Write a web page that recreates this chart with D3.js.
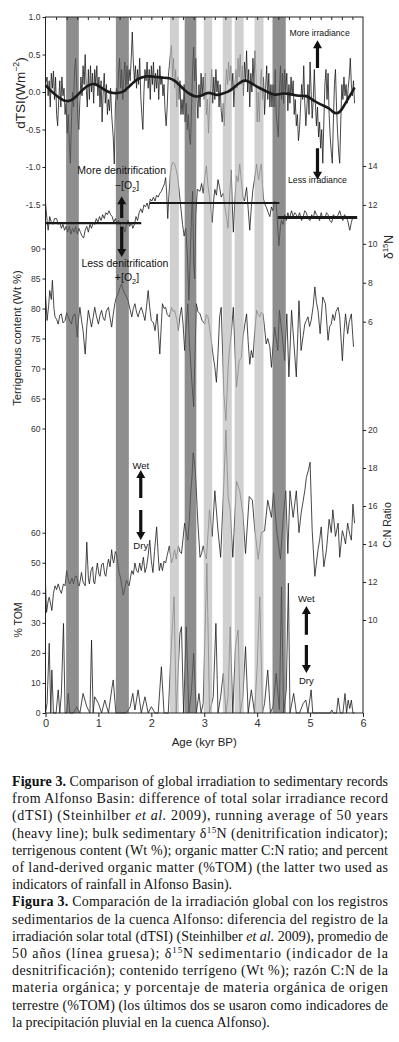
<!DOCTYPE html>
<html>
<head>
<meta charset="utf-8">
<script src="https://cdn.jsdelivr.net/npm/d3@7"></script>
<style>
  body { margin: 0; background: #fff; }
  svg { display: block; }
</style>
</head>
<body>
<svg id="fig" width="399" height="1042"></svg>
<script>
// shaded intervals (kyr BP)
var BANDS_DARK = [[0.39, 0.63], [1.33, 1.575], [2.63, 2.85], [4.29, 4.54]];
var BANDS_LIGHT = [[2.35, 2.52], [2.99, 3.15], [3.35, 3.52], [3.575, 3.745], [3.95, 4.12]];

// tick values
var AGE_TICKS = [0, 1, 2, 3, 4, 5, 6];
var DTSI_TICKS = [1.0, 0.5, 0.0, -0.5, -1.0, -1.5];
var D15N_TICKS = [14, 12, 10, 8, 6];
var TERRIG_TICKS = [90, 85, 80, 75, 70, 65, 60];
var CN_TICKS = [20, 18, 16, 14, 12, 10];
var TOM_TICKS = [60, 50, 40, 30, 20, 10, 0];

// dTSI (W m-2) [age, value]
var DTSI = [[0.00,0.10],[0.03,0.20],[0.05,-0.05],[0.07,0.15],[0.09,-0.20],[0.11,0.25],[0.13,0.05],[0.15,0.28],[0.17,-0.10],[0.19,0.20],
[0.21,-0.30],[0.23,-0.45],[0.25,-0.10],[0.27,0.15],[0.29,-0.20],[0.31,0.20],[0.33,-0.05],[0.35,0.05],[0.37,-0.30],[0.39,-0.15],
[0.41,-0.55],[0.43,-0.30],[0.45,-0.70],[0.47,-0.95],[0.49,-0.40],[0.51,0.00],[0.53,-0.20],[0.55,0.30],[0.57,0.45],[0.59,0.10],
[0.61,-0.35],[0.63,-0.50],[0.65,-0.10],[0.67,0.20],[0.69,-0.05],[0.71,0.35],[0.73,0.10],[0.75,0.50],[0.77,0.05],[0.79,-0.20],
[0.81,0.30],[0.83,-0.10],[0.85,0.35],[0.87,0.00],[0.89,0.25],[0.91,-0.15],[0.93,0.30],[0.95,0.10],[0.97,0.35],[0.99,-0.05],
[1.01,0.20],[1.03,-0.20],[1.05,0.15],[1.07,-0.40],[1.09,0.00],[1.11,0.25],[1.13,-0.15],[1.15,0.10],[1.17,-0.30],[1.19,-0.10],
[1.21,-0.25],[1.23,0.05],[1.25,-0.30],[1.28,-0.60],[1.30,-0.96],[1.32,-0.20],[1.34,0.05],[1.36,-0.10],[1.38,0.25],[1.40,0.45],
[1.42,0.05],[1.44,0.30],[1.46,-0.10],[1.48,0.20],[1.50,0.40],[1.52,0.00],[1.54,0.35],[1.56,0.10],[1.58,0.30],[1.60,0.15],
[1.62,0.45],[1.64,0.80],[1.66,0.40],[1.68,0.15],[1.70,0.35],[1.72,0.05],[1.74,0.30],[1.76,0.10],[1.78,0.45],[1.80,-0.05],
[1.82,-0.30],[1.84,-0.50],[1.86,0.00],[1.88,0.30],[1.90,0.15],[1.92,0.40],[1.94,0.05],[1.96,0.30],[1.98,-0.10],[2.00,0.35],
[2.02,0.10],[2.04,0.40],[2.06,0.00],[2.08,0.25],[2.10,0.05],[2.12,0.30],[2.14,-0.10],[2.16,0.35],[2.18,0.10],[2.20,0.20],
[2.22,-0.05],[2.24,0.10],[2.26,-0.25],[2.28,-0.45],[2.30,-0.20],[2.32,0.20],[2.34,0.35],[2.36,0.50],[2.38,0.62],[2.40,0.20],
[2.42,0.45],[2.44,0.05],[2.46,0.30],[2.48,-0.20],[2.50,0.20],[2.52,-0.10],[2.54,0.15],[2.56,-0.30],[2.58,-0.10],[2.60,-0.30],
[2.62,0.10],[2.64,-0.40],[2.66,-0.15],[2.68,-0.50],[2.70,-0.30],[2.72,-0.60],[2.74,-0.70],[2.76,-0.20],[2.78,0.30],[2.80,0.60],
[2.82,0.15],[2.84,0.45],[2.86,-0.05],[2.88,-0.35],[2.90,0.10],[2.92,-0.20],[2.94,0.25],[2.96,-0.05],[2.98,0.20],[3.00,-0.10],
[3.02,0.25],[3.04,-0.30],[3.06,-0.10],[3.08,-0.55],[3.10,-0.20],[3.12,0.05],[3.14,0.30],[3.16,-0.15],[3.18,0.20],[3.20,-0.10],
[3.22,0.30],[3.24,0.00],[3.26,0.15],[3.28,-0.20],[3.30,0.10],[3.32,-0.25],[3.34,-0.40],[3.36,-0.15],[3.38,-0.45],[3.40,0.05],
[3.42,0.30],[3.44,0.10],[3.46,0.40],[3.48,0.15],[3.50,0.35],[3.52,0.05],[3.54,0.25],[3.56,-0.20],[3.58,0.10],[3.60,0.30],
[3.62,0.05],[3.64,0.45],[3.66,0.20],[3.68,0.50],[3.70,0.10],[3.72,0.35],[3.74,-0.05],[3.76,0.40],[3.78,0.15],[3.80,0.55],
[3.82,0.00],[3.84,0.30],[3.86,-0.20],[3.88,0.25],[3.90,0.00],[3.92,0.45],[3.94,0.10],[3.96,0.55],[3.98,0.20],[4.00,-0.40],
[4.02,0.00],[4.04,-0.40],[4.06,0.10],[4.08,0.30],[4.10,-0.10],[4.12,0.20],[4.14,-0.30],[4.16,0.05],[4.18,0.35],[4.20,-0.10],
[4.22,0.25],[4.24,-0.20],[4.26,0.10],[4.28,-0.20],[4.30,0.10],[4.32,-0.20],[4.34,0.30],[4.36,-0.30],[4.38,-0.45],[4.40,-0.60],
[4.42,0.00],[4.44,0.35],[4.46,-0.10],[4.48,0.25],[4.50,-0.15],[4.52,0.30],[4.54,0.00],[4.56,0.25],[4.58,-0.25],[4.60,0.10],
[4.62,-0.15],[4.64,0.20],[4.66,-0.05],[4.68,0.15],[4.70,-0.30],[4.72,-0.10],[4.74,-0.45],[4.76,-0.30],[4.78,-0.65],[4.80,-0.50],
[4.82,-0.20],[4.84,0.10],[4.86,-0.10],[4.88,0.35],[4.90,-0.15],[4.92,-0.45],[4.94,-0.20],[4.96,0.10],[4.98,-0.30],[5.00,0.40],
[5.02,0.00],[5.04,-0.35],[5.06,-0.10],[5.08,0.30],[5.10,-0.15],[5.12,-0.45],[5.14,-0.20],[5.16,-0.60],[5.18,-0.40],[5.20,-0.75],
[5.22,-0.50],[5.24,-0.95],[5.26,-0.40],[5.28,0.10],[5.30,0.30],[5.32,-0.10],[5.34,0.25],[5.36,-0.30],[5.38,-0.60],[5.40,-0.80],
[5.42,-0.95],[5.44,-0.40],[5.46,0.10],[5.48,0.30],[5.50,-0.20],[5.52,-0.55],[5.54,-0.80],[5.56,-0.95],[5.58,-0.40],[5.60,0.10],
[5.62,-0.10],[5.64,0.20],[5.66,-0.05],[5.68,0.10],[5.70,-0.15],[5.72,0.05],[5.74,0.20],[5.76,0.45],[5.78,0.10],[5.80,-0.05],
[5.82,0.15],[5.84,-0.15]];

// dTSI 50-yr running average
var DTSI_AVG = [[0.00,0.09],[0.15,-0.02],[0.30,-0.10],[0.40,-0.13],[0.50,-0.11],[0.58,-0.06],[0.70,0.03],[0.80,0.09],[0.93,0.12],
[1.05,0.06],[1.15,0.01],[1.28,-0.02],[1.40,-0.01],[1.47,0.00],[1.58,0.07],[1.66,0.13],[1.78,0.19],[1.90,0.21],[1.97,0.21],
[2.10,0.20],[2.20,0.19],[2.35,0.19],[2.45,0.15],[2.55,0.08],[2.65,0.01],[2.73,-0.03],[2.85,-0.07],[2.95,-0.05],[3.05,-0.01],
[3.12,-0.01],[3.23,-0.05],[3.35,-0.02],[3.45,0.00],[3.55,0.05],[3.61,0.09],[3.70,0.14],[3.78,0.16],[3.86,0.13],[3.95,0.09],
[4.05,0.05],[4.17,0.01],[4.28,-0.03],[4.36,-0.04],[4.45,-0.02],[4.55,-0.02],[4.65,-0.03],[4.75,-0.05],[4.85,-0.05],[4.93,-0.05],
[5.00,-0.08],[5.08,-0.12],[5.18,-0.16],[5.28,-0.19],[5.37,-0.22],[5.43,-0.27],[5.50,-0.29],[5.56,-0.27],[5.62,-0.21],[5.70,-0.11],
[5.78,-0.02],[5.84,0.06]];

// bulk sedimentary d15N (per mil)
var D15N = [[0.00,12.1],[0.03,11.2],[0.05,10.7],[0.08,11.4],[0.11,11.1],[0.14,11.0],[0.17,11.3],[0.21,11.3],[0.24,11.0],[0.27,11.1],
[0.30,10.8],[0.33,11.0],[0.36,10.7],[0.39,10.9],[0.42,10.6],[0.45,10.9],[0.48,10.5],[0.51,10.8],[0.54,10.6],[0.57,10.9],
[0.60,10.5],[0.63,10.8],[0.66,10.6],[0.69,10.4],[0.72,10.3],[0.75,10.7],[0.78,10.9],[0.81,10.6],[0.84,11.0],[0.87,10.8],
[0.90,11.1],[0.93,11.0],[0.96,11.3],[0.99,11.1],[1.02,11.4],[1.05,11.2],[1.08,11.5],[1.11,11.3],[1.14,11.6],[1.17,11.5],
[1.20,11.7],[1.23,11.5],[1.26,11.4],[1.29,11.1],[1.32,11.3],[1.35,11.0],[1.38,11.2],[1.41,11.0],[1.44,10.7],[1.47,10.9],
[1.50,10.6],[1.53,11.0],[1.56,11.2],[1.59,10.9],[1.62,11.1],[1.65,10.8],[1.68,11.0],[1.71,11.4],[1.74,11.2],[1.77,11.6],
[1.80,11.8],[1.83,11.6],[1.86,12.0],[1.89,11.9],[1.92,12.1],[1.95,11.8],[1.98,12.3],[2.01,12.2],[2.04,12.4],[2.07,12.2],
[2.10,12.5],[2.13,12.4],[2.16,12.6],[2.19,12.7],[2.22,12.9],[2.25,13.1],[2.27,13.4],[2.29,12.6],[2.31,11.3],[2.33,12.4],
[2.36,13.6],[2.38,14.0],[2.41,14.2],[2.44,14.1],[2.47,13.8],[2.50,13.4],[2.53,12.6],[2.56,11.8],[2.59,11.0],[2.62,10.4],
[2.65,10.8],[2.68,9.5],[2.71,7.1],[2.74,9.8],[2.76,11.5],[2.78,12.7],[2.80,9.0],[2.82,8.2],[2.84,11.5],[2.87,12.8],
[2.92,12.7],[2.95,13.1],[2.98,12.6],[3.01,13.4],[3.04,14.0],[3.07,13.0],[3.10,12.4],[3.13,11.6],[3.15,11.1],[3.18,12.3],
[3.20,12.8],[3.23,12.5],[3.26,13.3],[3.29,12.9],[3.32,12.4],[3.36,12.6],[3.39,11.9],[3.42,11.4],[3.45,10.8],[3.48,12.5],
[3.51,13.8],[3.53,12.0],[3.55,10.6],[3.58,12.3],[3.61,13.5],[3.64,13.2],[3.67,14.1],[3.70,13.3],[3.73,12.4],[3.76,12.2],
[3.80,12.9],[3.83,11.8],[3.86,10.7],[3.89,11.9],[3.92,12.8],[3.95,13.3],[3.99,14.1],[4.01,13.6],[4.03,13.3],[4.06,13.9],
[4.08,14.1],[4.10,13.0],[4.12,12.3],[4.15,12.0],[4.17,11.9],[4.21,11.6],[4.24,11.4],[4.27,11.9],[4.30,11.7],[4.33,12.2],
[4.36,12.1],[4.39,10.8],[4.41,9.9],[4.44,10.9],[4.46,11.2],[4.49,11.0],[4.52,11.5],[4.55,11.2],[4.58,11.6],[4.61,11.3],
[4.65,11.7],[4.68,11.4],[4.71,11.6],[4.74,11.5],[4.77,11.3],[4.80,11.6],[4.84,11.2],[4.87,11.4],[4.90,11.7],[4.93,11.6],
[4.96,11.3],[5.00,11.2],[5.03,11.5],[5.06,11.3],[5.09,11.7],[5.12,11.5],[5.15,11.4],[5.18,11.2],[5.21,11.6],[5.24,11.3],
[5.28,11.3],[5.31,11.6],[5.34,11.5],[5.37,11.2],[5.41,11.1],[5.44,11.5],[5.47,11.4],[5.50,11.3],[5.53,11.5],[5.56,11.7],
[5.59,11.4],[5.62,11.2],[5.65,11.5],[5.68,11.4],[5.71,11.2],[5.75,10.7],[5.78,11.1],[5.81,11.4]];

// d15N interval means
var D15N_MEANS = [{from: 0.00, to: 1.81, value: 11.06}, {from: 1.97, to: 4.42, value: 12.10}, {from: 4.39, to: 5.89, value: 11.36}];

// terrigenous content (Wt %)
var TERRIG = [[0.00,82.4],[0.03,78.0],[0.06,80.5],[0.08,83.0],[0.11,81.5],[0.13,84.7],[0.16,80.0],[0.18,78.6],[0.21,78.2],[0.24,77.4],
[0.27,78.9],[0.30,79.1],[0.33,77.6],[0.37,78.0],[0.40,79.3],[0.43,78.6],[0.46,77.9],[0.49,77.4],[0.52,78.8],[0.56,79.1],
[0.60,75.2],[0.62,77.8],[0.65,80.2],[0.68,78.1],[0.71,76.3],[0.75,72.4],[0.78,77.0],[0.81,79.7],[0.84,78.3],[0.87,76.9],
[0.90,78.5],[0.93,80.2],[0.96,78.8],[1.00,77.4],[1.03,78.9],[1.06,79.7],[1.09,78.4],[1.12,78.0],[1.15,79.6],[1.19,80.2],
[1.22,78.4],[1.25,76.9],[1.28,79.0],[1.31,80.8],[1.34,81.9],[1.37,82.4],[1.41,83.5],[1.44,84.1],[1.47,83.0],[1.50,82.4],
[1.53,82.0],[1.56,81.3],[1.60,79.8],[1.63,78.6],[1.66,80.0],[1.69,80.8],[1.72,79.4],[1.75,78.6],[1.78,79.6],[1.81,80.2],
[1.85,79.0],[1.88,78.0],[1.91,80.4],[1.94,83.0],[1.97,80.1],[2.00,78.0],[2.04,77.6],[2.07,76.3],[2.11,79.1],[2.16,72.4],
[2.19,77.5],[2.21,80.8],[2.24,80.0],[2.27,80.2],[2.30,79.0],[2.34,78.6],[2.38,80.2],[2.41,79.5],[2.44,79.7],[2.48,78.2],
[2.51,76.3],[2.54,78.7],[2.57,80.2],[2.60,77.4],[2.63,73.0],[2.66,77.5],[2.69,80.8],[2.72,74.1],[2.76,68.6],[2.80,63.6],
[2.85,80.8],[2.88,79.5],[2.92,79.1],[2.96,78.0],[3.01,77.4],[3.04,79.0],[3.07,78.6],[3.11,76.2],[3.14,74.1],[3.17,72.0],
[3.20,70.2],[3.23,67.7],[3.26,72.5],[3.29,78.6],[3.32,80.2],[3.35,72.0],[3.37,65.8],[3.41,61.3],[3.45,70.2],[3.48,73.5],
[3.51,75.8],[3.55,80.2],[3.58,73.0],[3.61,66.9],[3.66,71.3],[3.70,71.8],[3.73,75.2],[3.77,77.5],[3.80,79.1],[3.83,74.5],
[3.86,70.7],[3.89,73.0],[3.92,71.8],[3.95,75.5],[3.99,79.7],[4.02,79.0],[4.05,78.6],[4.08,79.4],[4.11,79.1],[4.14,76.8],
[4.17,74.1],[4.20,75.0],[4.24,73.6],[4.27,70.2],[4.30,73.8],[4.33,76.9],[4.36,75.0],[4.39,73.0],[4.42,79.7],[4.47,75.8],
[4.52,71.3],[4.56,79.1],[4.60,68.6],[4.65,79.7],[4.69,74.7],[4.74,68.6],[4.79,81.3],[4.83,73.0],[4.87,75.5],[4.90,77.4],
[4.93,78.0],[4.96,78.6],[4.99,77.0],[5.02,78.0],[5.06,80.5],[5.09,83.6],[5.12,81.0],[5.15,79.7],[5.19,75.8],[5.24,81.9],
[5.29,80.8],[5.34,74.7],[5.37,77.0],[5.40,77.4],[5.43,79.0],[5.46,78.0],[5.49,79.5],[5.53,80.2],[5.56,78.6],[5.61,71.3],
[5.64,76.0],[5.67,79.1],[5.71,75.8],[5.74,77.8],[5.78,79.1],[5.82,73.6]];

// organic matter C:N ratio
var CN_RATIO = [[0.00,11.9],[0.02,10.4],[0.05,11.0],[0.07,11.2],[0.10,10.8],[0.12,10.5],[0.15,11.4],[0.18,11.8],[0.21,11.6],[0.24,11.9],
[0.27,11.6],[0.30,11.4],[0.34,11.9],[0.37,11.8],[0.40,12.6],[0.43,12.1],[0.46,11.9],[0.50,12.2],[0.53,11.9],[0.56,12.3],
[0.59,12.3],[0.62,11.8],[0.64,11.8],[0.68,12.5],[0.71,12.0],[0.75,11.8],[0.78,14.1],[0.81,12.2],[0.83,11.9],[0.86,12.6],
[0.89,12.8],[0.91,12.0],[0.93,11.9],[0.96,12.6],[0.98,13.0],[1.01,12.4],[1.03,12.3],[1.06,12.9],[1.09,13.0],[1.12,12.4],
[1.14,12.3],[1.17,12.9],[1.19,13.2],[1.22,12.8],[1.25,13.7],[1.27,13.2],[1.29,13.0],[1.32,13.6],[1.34,13.5],[1.37,12.9],
[1.39,12.5],[1.42,12.2],[1.44,11.8],[1.47,11.3],[1.50,11.7],[1.53,12.1],[1.56,11.9],[1.58,11.8],[1.61,12.3],[1.63,12.6],
[1.66,12.4],[1.69,13.0],[1.72,12.6],[1.75,12.5],[1.78,13.0],[1.81,12.6],[1.85,13.3],[1.88,12.5],[1.91,12.8],[1.94,13.4],
[1.97,14.2],[2.00,13.1],[2.03,12.5],[2.06,13.6],[2.10,14.9],[2.13,13.4],[2.15,12.6],[2.18,13.0],[2.21,12.6],[2.24,13.1],
[2.27,13.0],[2.30,13.4],[2.34,13.9],[2.38,13.0],[2.41,13.3],[2.44,13.7],[2.47,13.2],[2.51,13.9],[2.54,13.6],[2.57,13.5],
[2.60,14.3],[2.63,15.1],[2.66,14.6],[2.69,14.2],[2.72,15.3],[2.74,16.5],[2.77,17.6],[2.79,18.8],[2.82,18.2],[2.84,17.4],
[2.88,15.1],[2.92,13.3],[2.95,13.5],[2.98,13.9],[3.01,13.5],[3.04,13.2],[3.07,14.5],[3.10,15.8],[3.15,14.4],[3.20,16.8],
[3.26,14.7],[3.31,13.3],[3.36,16.5],[3.41,20.0],[3.45,16.5],[3.49,15.8],[3.54,13.3],[3.61,17.3],[3.67,16.8],[3.73,15.6],
[3.78,13.5],[3.85,16.5],[3.91,16.3],[3.95,14.9],[4.02,13.2],[4.08,14.6],[4.14,14.7],[4.20,16.3],[4.27,15.4],[4.31,16.7],
[4.37,14.7],[4.44,13.2],[4.49,15.3],[4.54,16.8],[4.58,13.5],[4.62,16.8],[4.68,15.4],[4.74,16.8],[4.79,14.6],[4.83,15.6],
[4.90,16.8],[4.93,17.5],[4.97,17.9],[5.00,18.3],[5.04,14.7],[5.09,12.3],[5.12,13.0],[5.15,13.7],[5.18,14.2],[5.21,14.9],
[5.26,12.8],[5.31,13.7],[5.36,15.3],[5.40,14.6],[5.43,15.8],[5.48,14.4],[5.53,15.1],[5.56,13.3],[5.61,14.7],[5.64,14.4],
[5.67,14.0],[5.71,15.1],[5.75,14.5],[5.78,14.2],[5.81,16.1],[5.84,15.1]];

// land-derived organic matter (%TOM)
var TOM = [[0.00,0],[0.03,3.2],[0.07,23.2],[0.10,0],[0.12,14.3],[0.15,0],[0.20,0],[0.24,7.7],[0.27,0],[0.30,6.5],
[0.34,29.8],[0.37,0],[0.40,0],[0.43,6.5],[0.46,0],[0.53,0],[0.59,2.1],[0.65,0],[0.71,6.5],[0.78,2.1],
[0.84,0],[0.87,24.3],[0.90,0],[0.93,5.4],[1.00,3.2],[1.06,0],[1.12,4.3],[1.19,0],[1.25,7.7],[1.28,11.0],
[1.33,0],[1.40,0],[1.53,0],[1.60,2.1],[1.65,6.5],[1.69,1.0],[1.75,7.7],[1.81,0],[1.88,5.4],[1.94,0],
[2.00,2.1],[2.07,0],[2.13,0],[2.19,15.4],[2.24,0],[2.32,0],[2.38,23.2],[2.43,38.7],[2.47,0],[2.54,26.5],
[2.57,28.7],[2.61,0],[2.66,28.7],[2.71,0],[2.76,7.7],[2.80,19.9],[2.85,0],[2.90,6.5],[2.94,0],[2.98,3.2],
[3.05,49.8],[3.10,0],[3.17,5.4],[3.22,29.8],[3.26,0],[3.31,5.4],[3.36,13.2],[3.41,0],[3.45,5.4],[3.49,28.7],
[3.54,0],[3.59,22.1],[3.64,27.6],[3.68,0],[3.73,5.4],[3.78,22.1],[3.83,0],[3.89,7.7],[3.95,0],[4.00,15.4],
[4.05,38.7],[4.10,0],[4.14,3.2],[4.20,14.3],[4.25,0],[4.30,2.1],[4.36,13.2],[4.42,1.0],[4.46,42.0],[4.50,0],
[4.55,7.7],[4.59,43.2],[4.62,0],[4.69,6.5],[4.74,0],[4.80,0],[4.87,3.2],[4.92,4.3],[4.96,0],[5.02,7.7],
[5.05,0],[5.38,0],[5.41,1.0],[5.44,0],[5.50,0],[5.53,5.0],[5.57,0],[5.62,0],[5.66,6.5],[5.69,0],
[5.72,4.3],[5.75,1.5],[5.78,4.3],[5.81,0],[5.84,0]];

// caption lines: [text, kind] kind: b bold, i italic, s superscript
var CAPTION = [
  {justify: true, parts: [['Figure 3.', 'b'], [' Comparison of global irradiation to sedimentary records', '']]},
  {justify: true, parts: [['from Alfonso Basin: difference of total solar irradiance record', '']]},
  {justify: true, parts: [['(dTSI) (Steinhilber ', ''], ['et al.', 'i'], [' 2009), running average of 50 years', '']]},
  {justify: true, parts: [['(heavy line); bulk sedimentary \u03b4', ''], ['15', 's'], ['N (denitrification indicator);', '']]},
  {justify: true, parts: [['terrigenous content (Wt %); organic matter C:N ratio; and percent', '']]},
  {justify: true, parts: [['of land-derived organic matter (%TOM) (the latter two used as', '']]},
  {justify: false, parts: [['indicators of rainfall in Alfonso Basin).', '']]},
  {justify: true, parts: [['Figura 3.', 'b'], [' Comparaci\u00f3n de la irradiaci\u00f3n global con los registros', '']]},
  {justify: true, parts: [['sedimentarios de la cuenca Alfonso: diferencia del registro de la', '']]},
  {justify: true, parts: [['irradiaci\u00f3n solar total (dTSI) (Steinhilber ', ''], ['et al.', 'i'], [' 2009), promedio de', '']]},
  {justify: true, parts: [['50 a\u00f1os (l\u00ednea gruesa); \u03b4', ''], ['15', 's'], ['N sedimentario (indicador de la', '']]},
  {justify: true, parts: [['desnitrificaci\u00f3n); contenido terr\u00edgeno (Wt %); raz\u00f3n C:N de la', '']]},
  {justify: true, parts: [['materia org\u00e1nica; y porcentaje de materia org\u00e1nica de origen', '']]},
  {justify: true, parts: [['terrestre (%TOM) (los \u00faltimos dos se usaron como indicadores de', '']]},
  {justify: false, parts: [['la precipitaci\u00f3n pluvial en la cuenca Alfonso).', '']]}
];

const svg = d3.select('#fig');
const SANS = '"Liberation Sans", Arial, sans-serif';
const INK = '#1a1a1a';

svg.append('rect').attr('width', 399).attr('height', 1042).attr('fill', '#fff');

const plot = { left: 45.5, right: 363, top: 17, bottom: 713 };

const x = d3.scaleLinear().domain([0, 6]).range([plot.left, plot.right]);
const yTsi = d3.scaleLinear().domain([-1.5, 1.0]).range([204.5, 17]);
const yN = d3.scaleLinear().domain([6, 14]).range([321.7, 166]);
const yTer = d3.scaleLinear().domain([60, 90]).range([428.5, 248.5]);
const yCn = d3.scaleLinear().domain([10, 20]).range([620, 430]);
const yTom = d3.scaleLinear().domain([0, 60]).range([713, 532.7]);

// data lines
const lineOf = (ys) => d3.line().x(d => x(d[0])).y(d => ys(d[1]));
const series = [
  { data: DTSI, y: yTsi },
  { data: D15N, y: yN },
  { data: TERRIG, y: yTer },
  { data: CN_RATIO, y: yCn },
  { data: TOM, y: yTom }
];
const gLines = svg.append('g');
series.forEach(s => {
  gLines.append('path')
    .datum(s.data)
    .attr('fill', 'none')
    .attr('stroke', INK)
    .attr('stroke-width', 0.8)
    .attr('stroke-linejoin', 'round')
    .attr('d', lineOf(s.y));
});

// shaded intervals, translucent so the records show through
const gBands = svg.append('g').attr('fill-opacity', 0.69);
gBands.selectAll('rect.dark')
  .data(BANDS_DARK)
  .join('rect')
  .attr('class', 'dark')
  .attr('x', d => x(d[0]))
  .attr('y', plot.top)
  .attr('width', d => x(d[1]) - x(d[0]))
  .attr('height', plot.bottom - plot.top)
  .attr('fill', '#5c5c5c');
gBands.selectAll('rect.light')
  .data(BANDS_LIGHT)
  .join('rect')
  .attr('class', 'light')
  .attr('x', d => x(d[0]))
  .attr('y', plot.top)
  .attr('width', d => x(d[1]) - x(d[0]))
  .attr('height', plot.bottom - plot.top)
  .attr('fill', '#bbbbbb');

// running average and interval means on top
svg.append('path')
  .datum(DTSI_AVG)
  .attr('fill', 'none')
  .attr('stroke', INK)
  .attr('stroke-width', 2.6)
  .attr('d', lineOf(yTsi).curve(d3.curveBasis));

const meanWidths = [2.2, 2.2, 3];
svg.append('g')
  .selectAll('line')
  .data(D15N_MEANS)
  .join('line')
  .attr('x1', d => x(d.from))
  .attr('x2', d => x(d.to))
  .attr('y1', d => yN(d.value))
  .attr('y2', d => yN(d.value))
  .attr('stroke', INK)
  .attr('stroke-width', (d, i) => meanWidths[i]);

// frame
svg.append('rect')
  .attr('x', plot.left).attr('y', plot.top)
  .attr('width', plot.right - plot.left).attr('height', plot.bottom - plot.top)
  .attr('fill', 'none').attr('stroke', '#222').attr('stroke-width', 1);

// axes
const fmt1 = d => d.toFixed(1);
const styleAxis = (g) => {
  g.select('.domain').remove();
  g.selectAll('.tick line').attr('stroke', '#222');
  g.selectAll('.tick text').attr('fill', '#333').attr('font-family', SANS).attr('font-size', 8.6);
};

svg.append('g')
  .attr('transform', `translate(${plot.left},0)`)
  .call(d3.axisLeft(yTsi).tickValues(DTSI_TICKS).tickFormat(fmt1).tickSize(3).tickPadding(2))
  .call(styleAxis);
svg.append('g')
  .attr('transform', `translate(${plot.left},0)`)
  .call(d3.axisLeft(yTer).tickValues(TERRIG_TICKS).tickFormat(d3.format('d')).tickSize(3).tickPadding(2))
  .call(styleAxis);
svg.append('g')
  .attr('transform', `translate(${plot.left},0)`)
  .call(d3.axisLeft(yTom).tickValues(TOM_TICKS).tickFormat(d3.format('d')).tickSize(3).tickPadding(2))
  .call(styleAxis);
svg.append('g')
  .attr('transform', `translate(${plot.right},0)`)
  .call(d3.axisRight(yN).tickValues(D15N_TICKS).tickFormat(d3.format('d')).tickSize(3).tickPadding(2))
  .call(styleAxis);
svg.append('g')
  .attr('transform', `translate(${plot.right},0)`)
  .call(d3.axisRight(yCn).tickValues(CN_TICKS).tickFormat(d3.format('d')).tickSize(3).tickPadding(2))
  .call(styleAxis);
svg.append('g')
  .attr('transform', `translate(0,${plot.bottom})`)
  .call(d3.axisBottom(x).tickValues(AGE_TICKS).tickFormat(d3.format('d')).tickSize(4).tickPadding(2))
  .call(styleAxis)
  .call(g => g.selectAll('.tick text').attr('font-size', 11));
// small inward ticks along the top edge
svg.append('g')
  .attr('transform', `translate(0,${plot.top})`)
  .call(d3.axisBottom(x).tickValues(d3.range(0.2, 6, 0.2)).tickFormat('').tickSize(3))
  .call(styleAxis);

// axis titles
const title = (tx, ty, size, pieces) => {
  const t = svg.append('text')
    .attr('transform', `translate(${tx},${ty}) rotate(-90)`)
    .attr('text-anchor', 'middle')
    .attr('font-family', SANS)
    .attr('font-size', size)
    .attr('fill', '#222');
  let shifted = false;
  pieces.forEach(([txt, sup]) => {
    const ts = t.append('tspan').text(txt);
    if (sup) { ts.attr('font-size', size * 0.65).attr('dy', -size * 0.4); shifted = true; }
    else if (shifted) { ts.attr('dy', size * 0.4); shifted = false; }
  });
};
title(24.5, 93, 13.5, [['dTSI(Wm', false], ['\u22122', true], [')', false]]);
title(21, 338, 11.2, [['Terrigenous content (Wt %)', false]]);
title(22, 620, 10.5, [['% TOM', false]]);
title(392.5, 247, 12, [['\u03b4', false], ['15', true], ['N', false]]);
title(390.5, 525, 10.5, [['C:N Ratio', false]]);

svg.append('text')
  .attr('x', x(3)).attr('y', 746)
  .attr('text-anchor', 'middle')
  .attr('font-family', SANS).attr('font-size', 11.5).attr('fill', '#222')
  .text('Age (kyr BP)');

// annotations (placed in data units of each panel)
const arrow = (ax, y1, y2) => {
  const dir = y2 < y1 ? -1 : 1;
  const head = 8, hw = 4.5, sw = 1.6;
  const yb = y2 - dir * head;
  svg.append('path')
    .attr('d', `M${ax - sw},${y1} L${ax - sw},${yb} L${ax - hw},${yb} L${ax},${y2} L${ax + hw},${yb} L${ax + sw},${yb} L${ax + sw},${y1} Z`)
    .attr('fill', '#111');
};
const note = (nx, ny, size, pieces) => {
  const t = svg.append('text')
    .attr('x', nx).attr('y', ny)
    .attr('text-anchor', 'middle')
    .attr('font-family', SANS).attr('font-size', size).attr('fill', '#111');
  let shifted = false;
  pieces.forEach(([txt, sub]) => {
    const ts = t.append('tspan').text(txt);
    if (sub) { ts.attr('font-size', size * 0.7).attr('dy', size * 0.3); shifted = true; }
    else if (shifted) { ts.attr('dy', -size * 0.3); shifted = false; }
  });
};

note(x(5.18), yTsi(0.75), 8.7, [['More irradiance', false]]);
arrow(x(5.14), yTsi(0.32), yTsi(0.69));
arrow(x(5.14), yTsi(-0.75), yTsi(-1.17));
note(x(5.14), yTsi(-1.21), 8.7, [['Less irradiance', false]]);

note(x(1.44), yN(13.59), 10.5, [['More denitrification', false]]);
note(x(1.54), yN(12.82), 10.5, [['\u2212[O', false], ['2', true], [']', false]]);
arrow(x(1.44), yN(11.33), yN(12.45));
arrow(x(1.44), yN(10.88), yN(9.32));
note(x(1.50), yN(8.81), 10.5, [['Less denitrification', false]]);
note(x(1.54), yN(8.09), 10.5, [['+[O', false], ['2', true], [']', false]]);

note(x(1.80), yCn(17.95), 9.5, [['Wet', false]]);
arrow(x(1.80), yCn(16.42), yCn(17.89));
arrow(x(1.80), yCn(15.79), yCn(14.21));
note(x(1.80), yCn(13.74), 9.5, [['Dry', false]]);

note(x(4.93), yTom(36.9), 9.5, [['Wet', false]]);
arrow(x(4.93), yTom(26), yTom(35.6));
arrow(x(4.93), yTom(22.6), yTom(13.3));
note(x(4.93), yTom(9.65), 9.5, [['Dry', false]]);

// caption
const CAP_X = 12, CAP_W = 376, CAP_Y = 786, CAP_STEP = 17.2;
const cap = svg.append('g')
  .attr('font-family', '"Liberation Serif", "Times New Roman", serif')
  .attr('font-size', 14)
  .attr('fill', '#111');
CAPTION.forEach((line, i) => {
  const t = cap.append('text').attr('x', CAP_X).attr('y', CAP_Y + i * CAP_STEP);
  if (line.justify) t.attr('textLength', CAP_W).attr('lengthAdjust', 'spacing');
  let shifted = false;
  line.parts.forEach(([txt, kind]) => {
    const ts = t.append('tspan').text(txt);
    if (kind === 'b') ts.attr('font-weight', 'bold');
    if (kind === 'i') ts.attr('font-style', 'italic');
    if (kind === 's') { ts.attr('font-size', 9).attr('dy', -5); shifted = true; }
    else if (shifted) { ts.attr('dy', 5); shifted = false; }
  });
});
</script>
</body>
</html>
